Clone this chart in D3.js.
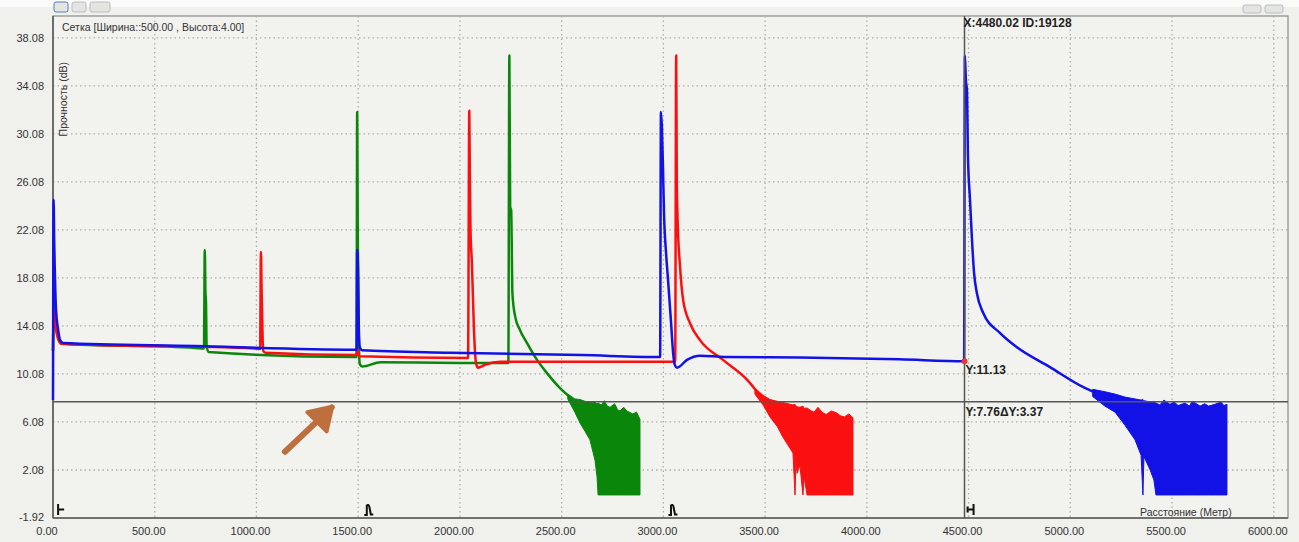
<!DOCTYPE html>
<html>
<head>
<meta charset="utf-8">
<script src="https://cdn.jsdelivr.net/npm/d3@7"></script>
<style>
body { margin: 0; background: #f0f0ec; }
svg { display: block; font-family: "Liberation Sans", Arial, sans-serif; }
</style>
</head>
<body>
<div id="chart"></div>
<script>
// ticks
const xTicks = [0, 500, 1000, 1500, 2000, 2500, 3000, 3500, 4000, 4500, 5000, 5500, 6000];
const yTicks = [-1.92, 2.08, 6.08, 10.08, 14.08, 18.08, 22.08, 26.08, 30.08, 34.08, 38.08];

// traces: [distance m, dB]
const greenTrace = [
  [0, 12.0], [4, 16.0], [10, 15.0], [20, 13.5], [40, 12.6], [700, 12.25], [742, 12.2], [746, 20.4],
  [749, 17.0], [752, 16.0], [755, 12.4], [765, 11.9], [1480, 11.5], [1492, 11.5], [1495, 31.9],
  [1498, 21.5], [1502, 14.0], [1508, 10.9], [1520, 10.7], [1610, 11.05], [2000, 11.0], [2238, 11.0],
  [2243, 36.6], [2247, 24.0], [2252, 23.7], [2258, 16.8], [2271, 14.9], [2295, 13.75], [2330, 12.65],
  [2379, 11.25], [2428, 10.15], [2492, 8.9], [2541, 8.15]
];
const redTrace = [
  [0, 12.0], [4, 15.5], [10, 14.5], [20, 13.3], [40, 12.6], [990, 12.2], [1018, 12.15], [1022, 20.25],
  [1025, 17.3], [1029, 14.0], [1033, 12.0], [1045, 11.85], [1490, 11.65], [1497, 12.1], [1505, 11.55],
  [2040, 11.4], [2046, 32.0], [2049, 26.0], [2052, 22.1], [2059, 19.3], [2069, 13.75], [2079, 11.0],
  [2089, 10.6], [2123, 10.85], [2200, 11.1], [3058, 11.1], [3063, 36.6], [3066, 26.0], [3070, 22.9],
  [3082, 19.0], [3097, 16.25], [3131, 14.3], [3180, 12.9], [3293, 11.25], [3411, 9.6], [3460, 8.6]
];
const blueTrace = [
  [0, 7.9], [3, 24.6], [6, 21.0], [10, 17.9], [15, 15.4], [25, 13.8], [35, 12.9], [50, 12.65],
  [700, 12.4], [1485, 12.1], [1492, 12.1], [1495, 20.4], [1499, 19.0], [1503, 14.0], [1508, 12.3],
  [1520, 12.05], [1950, 11.85], [2600, 11.65], [2984, 11.5], [2988, 31.9], [2993, 30.5], [2998, 27.3],
  [3003, 23.5], [3013, 20.2], [3023, 17.9], [3038, 14.3], [3048, 11.8], [3057, 10.8], [3067, 10.6],
  [3116, 11.25], [3180, 11.6], [3300, 11.5], [3670, 11.45], [4160, 11.3], [4478, 11.13], [4482, 36.6],
  [4487, 34.5], [4492, 33.7], [4497, 28.2], [4507, 24.6], [4517, 21.2], [4527, 18.5], [4541, 16.8],
  [4571, 15.2], [4654, 13.5], [4738, 12.3], [4900, 10.65], [5062, 9.0], [5125, 8.5]
];

// noise floor bands: [distance m, low dB, high dB]
const greenNoise = [
  [2530, 8.0, 8.4], [2565, 6.9, 8.0], [2590, 6.0, 7.95], [2615, 5.3, 7.8], [2639, 4.6, 7.75],
  [2664, 2.9, 7.7], [2674, 1.5, 7.6], [2679, 0, 7.65], [2695, 0, 7.5], [2710, 0, 7.85], [2724, 0, 7.4],
  [2738, 0, 7.3], [2760, 0, 7.6], [2775, 0, 7.1], [2787, 0, 7.0], [2805, 0, 7.3], [2820, 0, 7.0],
  [2850, 0, 6.75], [2868, 0, 6.9], [2885, 0, 6.3]
];
const redNoise = [
  [3450, 8.4, 8.9], [3490, 7.5, 8.3], [3524, 6.5, 7.95], [3560, 5.7, 7.8], [3588, 4.8, 7.7],
  [3637, 3.5, 7.5], [3647, 0, 7.55], [3652, 3.0, 7.4], [3657, 1.8, 7.35], [3671, 2.5, 7.3],
  [3686, 0, 7.4], [3692, 1.5, 7.2], [3706, 0, 7.25], [3722, 0, 7.05], [3740, 0, 6.9], [3760, 0, 7.3],
  [3780, 0, 6.9], [3800, 0, 6.7], [3825, 0, 7.0], [3850, 0, 6.85], [3870, 0, 6.6], [3890, 0, 6.5],
  [3912, 0, 6.75], [3932, 0, 6.4]
];
const blueNoise = [
  [5110, 8.2, 8.8], [5170, 7.4, 8.6], [5220, 6.9, 8.4], [5269, 5.8, 8.15], [5318, 4.6, 8.0],
  [5348, 3.3, 7.9], [5357, 0, 7.95], [5362, 3.2, 7.85], [5392, 2.1, 7.75], [5411, 1.25, 7.7],
  [5421, 0, 7.65], [5440, 0, 7.5], [5460, 0, 7.9], [5490, 0, 7.55], [5510, 0, 7.75], [5530, 0, 7.45],
  [5564, 0, 7.65], [5585, 0, 7.4], [5600, 0, 7.8], [5638, 0, 7.4], [5660, 0, 7.6], [5680, 0, 7.4],
  [5711, 0, 7.55], [5740, 0, 7.75], [5755, 0, 7.45], [5770, 0, 7.55]
];

// event marks along the bottom
const events = [
  {m: 30, kind: "start"}, {m: 1535, kind: "refl"}, {m: 3030, kind: "refl"}, {m: 4500, kind: "end"}
];

// cursor readout
const cursorX = 4480.02;
const cursorId = 19128;
const cursorY = 11.13;
const cursorY2 = 7.76;

const W = 1299, H = 542;
const svg = d3.select("#chart").append("svg")
  .attr("width", W)
  .attr("height", H);

const x = d3.scaleLinear().domain([0, 6070]).range([53, 1288]);
const y = d3.scaleLinear().domain([-1.92, 39.9]).range([518, 16]);

// backgrounds + toolbar bits
svg.append("rect").attr("width", W).attr("height", H).attr("fill", "#f0f0ec");
svg.append("rect").attr("width", W).attr("height", 7).attr("fill", "#fbfbfa");
const tb = svg.append("g").attr("fill", "#e4e4e0").attr("stroke", "#b8bcc4");
tb.append("rect").attr("x", 54).attr("y", 2).attr("width", 14).attr("height", 10).attr("rx", 2).attr("stroke", "#5a7fb8");
tb.append("rect").attr("x", 72).attr("y", 2).attr("width", 14).attr("height", 10).attr("rx", 2);
tb.append("rect").attr("x", 90).attr("y", 2).attr("width", 20).attr("height", 10).attr("rx", 2);
tb.append("rect").attr("x", 1243).attr("y", 5).attr("width", 18).attr("height", 8).attr("rx", 2);
tb.append("rect").attr("x", 1265).attr("y", 5).attr("width", 18).attr("height", 8).attr("rx", 2);

// plot frame
svg.append("rect")
  .attr("x", x(0)).attr("y", y.range()[1])
  .attr("width", x.range()[1] - x(0)).attr("height", y.range()[0] - y.range()[1])
  .attr("fill", "#f2f2ef").attr("stroke", "#8a8a8a").attr("stroke-width", 1.2);

// grid
const grid = svg.append("g").attr("stroke", "#aeaea8").attr("stroke-width", 1.3).attr("stroke-dasharray", "1.5,3");
grid.selectAll("line.v").data(xTicks.slice(1)).enter().append("line")
  .attr("x1", d => x(d)).attr("x2", d => x(d))
  .attr("y1", y.range()[1]).attr("y2", y.range()[0]);
grid.selectAll("line.h").data(yTicks.slice(1)).enter().append("line")
  .attr("x1", x(0)).attr("x2", x.range()[1])
  .attr("y1", d => y(d)).attr("y2", d => y(d));

// axes lines (left + bottom darker)
svg.append("line").attr("x1", x(0)).attr("x2", x(0)).attr("y1", y.range()[1]).attr("y2", y.range()[0])
  .attr("stroke", "#5a5a5a").attr("stroke-width", 1.6);
svg.append("line").attr("x1", x(0)).attr("x2", x.range()[1]).attr("y1", y.range()[0]).attr("y2", y.range()[0])
  .attr("stroke", "#5a5a5a").attr("stroke-width", 1.6);

// tick labels
svg.append("g").selectAll("text").data(yTicks).enter().append("text")
  .attr("x", 44).attr("y", d => d === yTicks[0] ? y(d) - 1 : y(d))
  .attr("dy", "0.35em").attr("text-anchor", "end")
  .attr("font-size", 11).attr("fill", "#333")
  .text(d => d.toFixed(2));
svg.append("g").selectAll("text").data(xTicks).enter().append("text")
  .attr("x", d => x(d) - 6).attr("y", 535)
  .attr("text-anchor", "middle")
  .attr("font-size", 11).attr("fill", "#333")
  .text(d => d.toFixed(2));

// titles
svg.append("text").attr("x", 62).attr("y", 31).attr("font-size", 10.5).attr("fill", "#333")
  .text("Сетка [Ширина::500.00 , Высота:4.00]");
svg.append("text").attr("transform", "translate(67,62) rotate(-90)")
  .attr("text-anchor", "end").attr("font-size", 10.5).attr("fill", "#333")
  .text("Прочность (dB)");
svg.append("text").attr("x", 1140).attr("y", 516).attr("font-size", 10.5).attr("fill", "#333")
  .text("Расстояние (Метр)");

// traces
const line = d3.line().x(d => x(d[0])).y(d => y(d[1])).curve(d3.curveMonotoneX);
const band = d3.area().x(d => x(d[0])).y0(d => y(d[1])).y1(d => y(d[2]));

const series = [
  {trace: greenTrace, noise: greenNoise, color: "#0a870a"},
  {trace: redTrace, noise: redNoise, color: "#fa1010"},
  {trace: blueTrace, noise: blueNoise, color: "#1212e6"}
];

series.forEach(s => {
  svg.append("path").datum(s.noise)
    .attr("fill", s.color).attr("stroke", s.color).attr("stroke-width", 1)
    .attr("d", band);
  svg.append("path").datum(s.trace)
    .attr("fill", "none").attr("stroke", s.color)
    .attr("stroke-width", 2.5).attr("stroke-linejoin", "round")
    .attr("d", line);
});

// event marks
const glyphs = {
  start: "M0,0V11M0,5.5H6",
  refl: "M0,11H2.5V1.5Q4,0 5,2.5L6.5,10.5H9",
  end: "M6,0V11M0,5.5H6M0,2.5V8.5"
};
svg.append("g").selectAll("path").data(events).enter().append("path")
  .attr("transform", d => `translate(${x(d.m) - 1},504)`)
  .attr("d", d => glyphs[d.kind])
  .attr("fill", "none").attr("stroke", "#111").attr("stroke-width", 2);

// cursor
svg.append("line").attr("x1", x(cursorX)).attr("x2", x(cursorX))
  .attr("y1", y.range()[1]).attr("y2", y.range()[0])
  .attr("stroke", "#555").attr("stroke-width", 1.5);
svg.append("line").attr("x1", x(0)).attr("x2", x.range()[1])
  .attr("y1", y(cursorY2)).attr("y2", y(cursorY2))
  .attr("stroke", "#555").attr("stroke-width", 1.5);
svg.append("circle").attr("cx", x(cursorX)).attr("cy", y(cursorY)).attr("r", 3).attr("fill", "#e33");

const lab = svg.append("g").attr("font-size", 12).attr("font-weight", "bold").attr("fill", "#222");
lab.append("text").attr("x", x(cursorX) - 1).attr("y", 27)
  .text(`X:${cursorX.toFixed(2)}  ID:${cursorId}`);
lab.append("text").attr("x", x(cursorX) + 1).attr("y", y(cursorY) + 13)
  .text(`Y:${cursorY.toFixed(2)}`);
lab.append("text").attr("x", x(cursorX) + 1).attr("y", y(cursorY2) + 14)
  .text(`Y:${cursorY2.toFixed(2)}ΔY:${(cursorY - cursorY2).toFixed(2)}`);

// hand-drawn arrow annotation
const straight = d3.line().x(d => x(d[0])).y(d => y(d[1]));
const arrow = [[1140, 3.6], [1370, 7.3]];
const head = [[1372, 7.35], [1250, 6.9], [1345, 5.3]];
svg.append("path").datum(arrow)
  .attr("d", straight).attr("fill", "none")
  .attr("stroke", "#bd6f3d").attr("stroke-width", 6).attr("stroke-linecap", "round");
svg.append("path").datum(head)
  .attr("d", d => straight(d) + "Z")
  .attr("fill", "#bd6f3d").attr("stroke", "#bd6f3d").attr("stroke-width", 4).attr("stroke-linejoin", "round");
</script>
</body>
</html>
